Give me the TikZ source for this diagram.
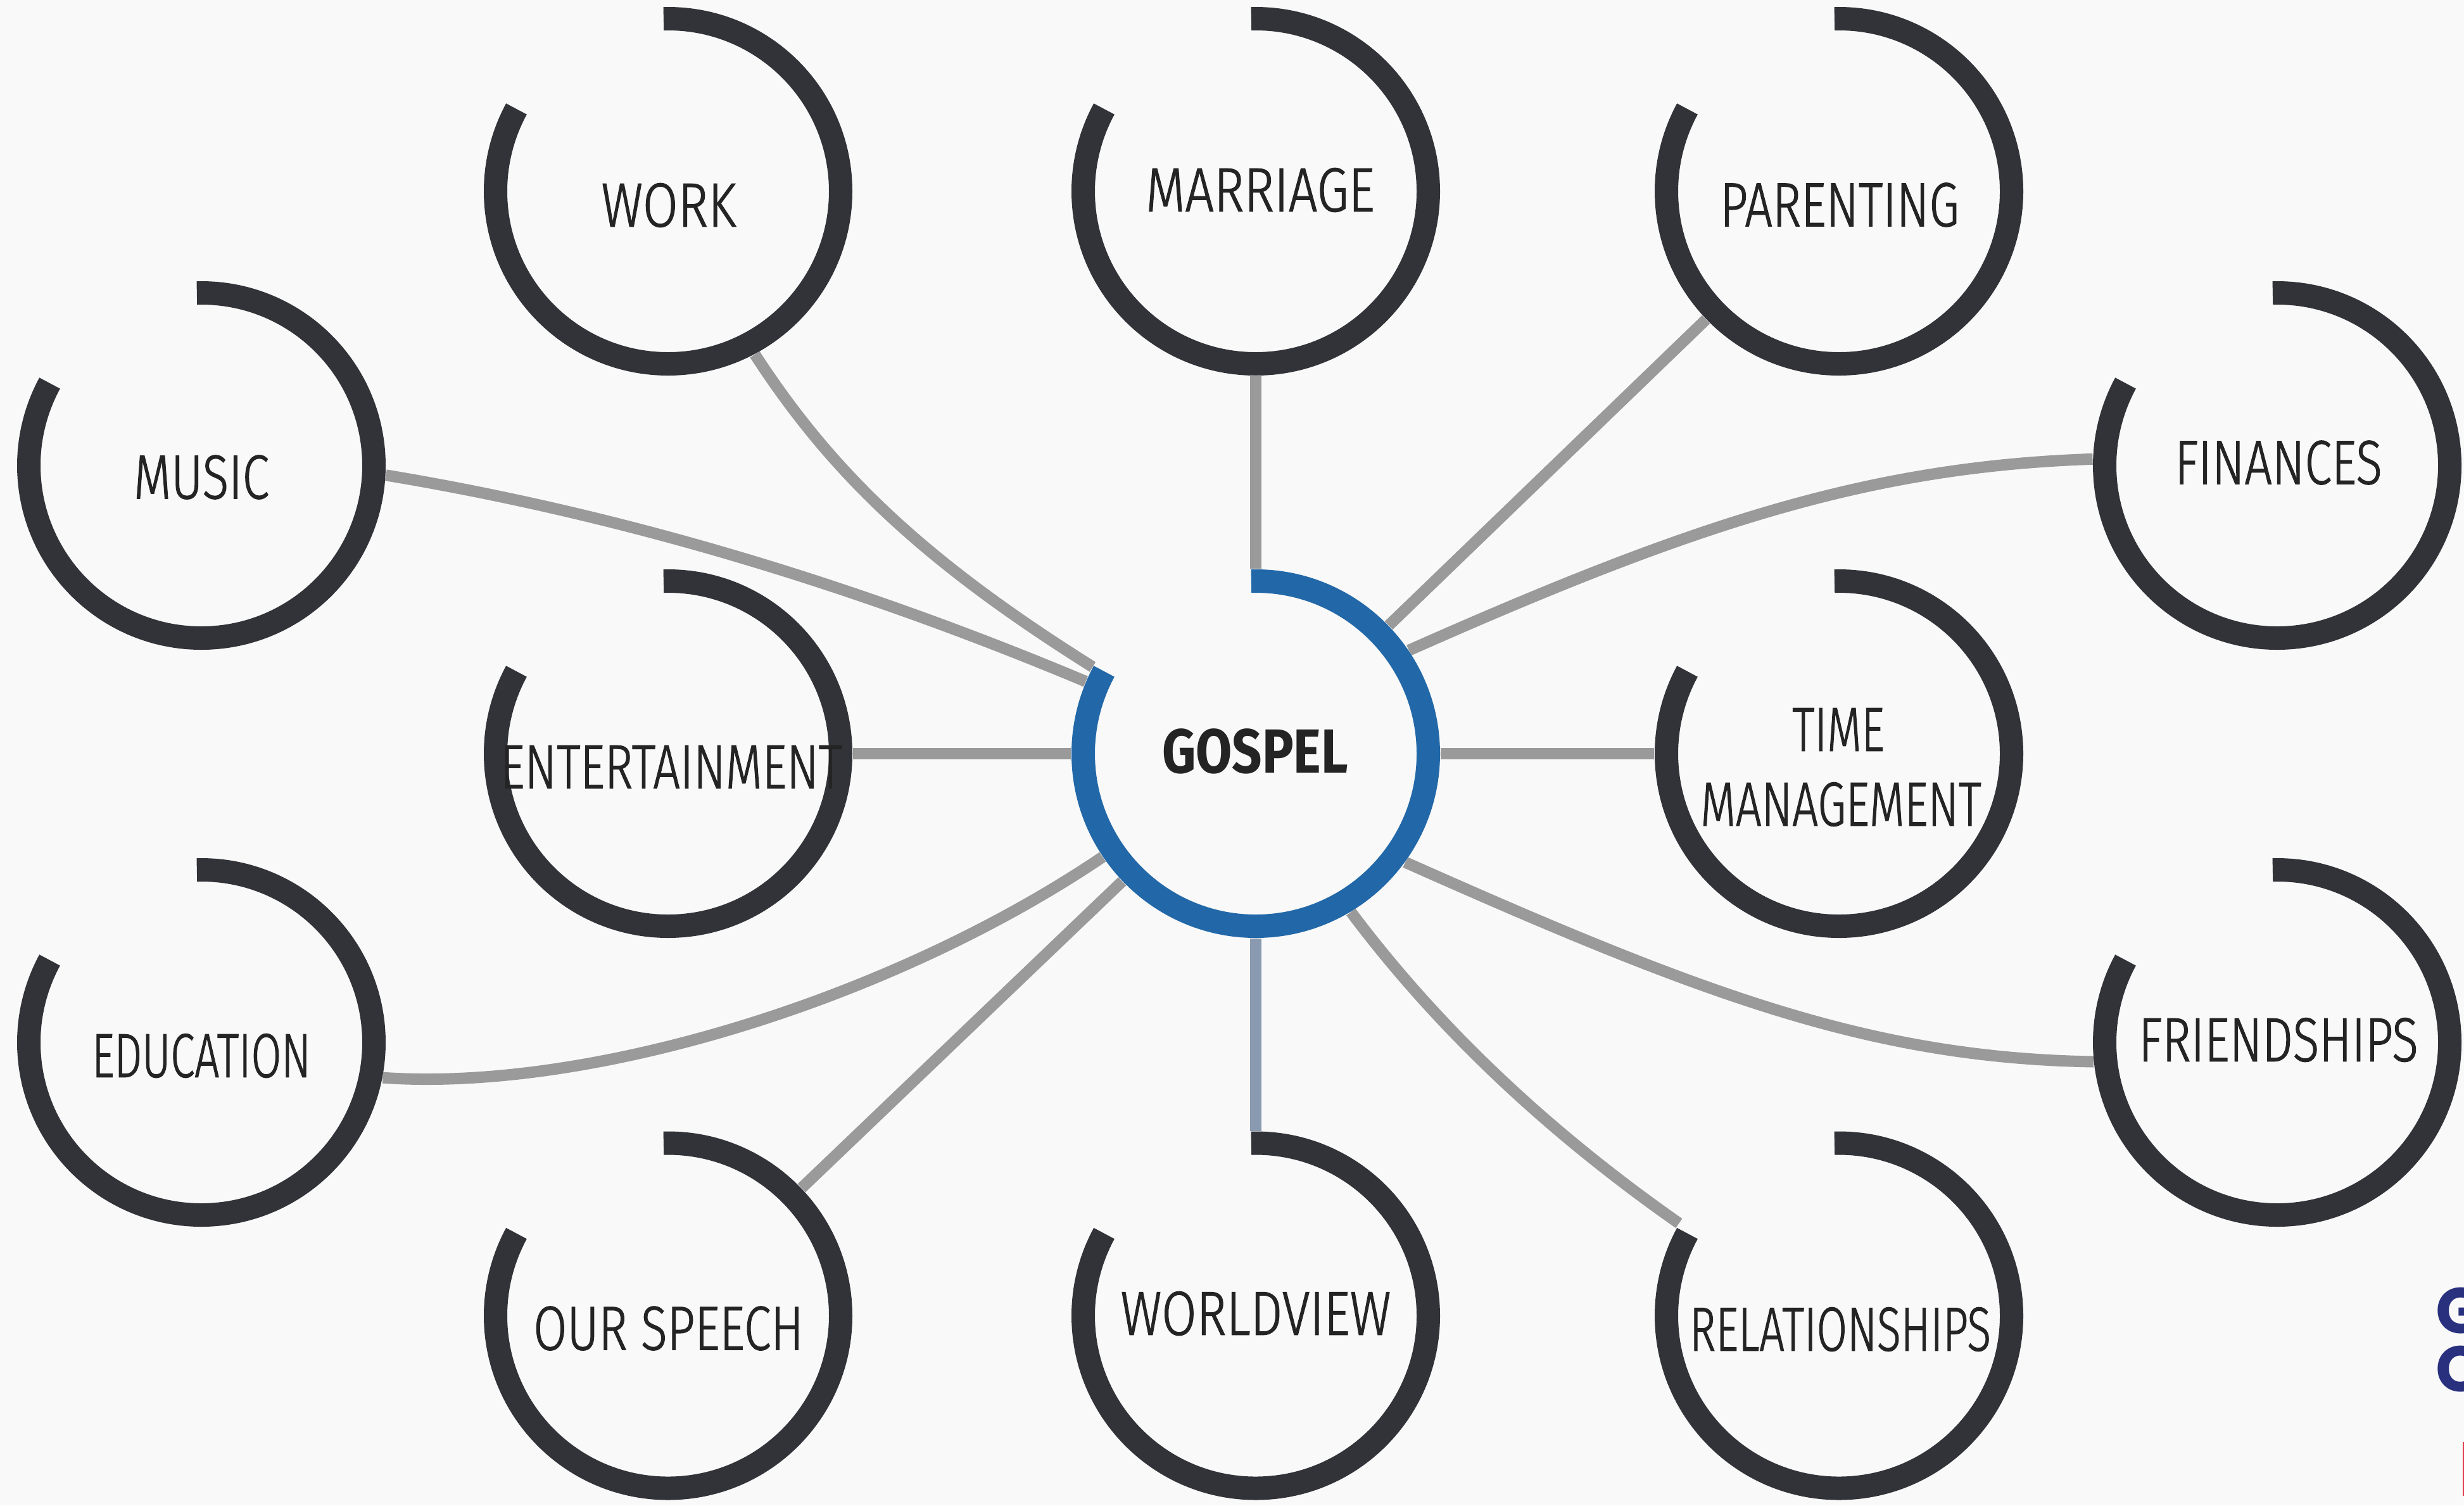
\documentclass[tikz,border=0pt]{standalone}
\usepackage{fontspec}
\setmainfont{Fira Sans}[FakeStretch=0.78, UprightFont=* Light, UprightFeatures={FakeBold=1.2}, BoldFont=* Bold]
\newfontfamily\logofont{Poppins}
\definecolor{bgc}{HTML}{F9F9F9}
\definecolor{ringc}{HTML}{323338}
\definecolor{gospelc}{HTML}{2268A8}
\definecolor{linkc}{HTML}{9A9A9A}
\definecolor{linkb}{HTML}{8A9AB0}
\definecolor{txtc}{HTML}{242424}
\definecolor{logoc}{HTML}{29307E}
\definecolor{redc}{HTML}{E23A4E}
\pgfdeclarelayer{back}
\pgfsetlayers{back,main}
\tikzset{
  disk/.style={circle, minimum size=5.82cm, inner sep=0pt, fill=bgc},
  ring/.style={line width=0.37cm, draw=ringc},
  gring/.style={line width=0.37cm, draw=gospelc},
  link/.style={line width=0.18cm, draw=linkc},
  lbl/.style={inner sep=0pt, text=txtc, font=\fontsize{28}{30}\selectfont},
  glbl/.style={inner sep=0pt, text=txtc, font=\fontsize{28}{30}\selectfont\bfseries},
  logo/.style={inner sep=0pt, anchor=west, text=logoc, font=\logofont\bfseries\fontsize{29}{31}\selectfont},
}
\newcommand\ringfor[2]{\draw[#2] ([shift={(91.5:2.725)}]#1.center) arc[start angle=91.5, end angle=-208.5, radius=2.725];}
\newcommand\sx[2]{\scalebox{#1}[1]{#2}}
\begin{document}
\begin{tikzpicture}
\useasboundingbox (0,0) rectangle (38.91,-23.77);
\begin{pgfonlayer}{back}
\fill[bgc] (0,0) rectangle (38.91,-23.77);
\end{pgfonlayer}
% circle nodes
\node[disk] (work) at (10.55,-3.02) {};
\node[disk] (marriage) at (19.83,-3.02) {};
\node[disk] (parenting) at (29.04,-3.02) {};
\node[disk] (music) at (3.18,-7.35) {};
\node[disk] (finances) at (35.96,-7.35) {};
\node[disk] (entertainment) at (10.55,-11.90) {};
\node[disk] (gospel) at (19.83,-11.90) {};
\node[disk] (time) at (29.04,-11.90) {};
\node[disk] (education) at (3.18,-16.46) {};
\node[disk] (friendships) at (35.96,-16.46) {};
\node[disk] (speech) at (10.55,-20.775) {};
\node[disk] (worldview) at (19.83,-20.775) {};
\node[disk] (relationships) at (29.04,-20.775) {};
% connectors
\begin{pgfonlayer}{back}
\draw[link] (marriage) -- (gospel);
\draw[link] (parenting) -- (gospel);
\draw[link] (entertainment) -- (gospel);
\draw[link] (time) -- (gospel);
\draw[link] (speech) -- (gospel);
\draw[link, draw=linkb] (worldview) -- (gospel);
\draw[link] (music.-3) .. controls +(3.80,-0.63) and +(-3.55,1.49) .. (gospel.157.5);
\draw[link] (work.-62) .. controls +(1.20,-1.845) and +(-2.71,1.70) .. (gospel.152);
\draw[link] (education.-11) .. controls +(3.29,-0.23) and +(-3.32,-2.24) .. (gospel.214);
\draw[link] (finances.178) .. controls +(-3.50,-0.12) and +(4.57,2.03) .. (gospel.34);
\draw[link] (friendships.-174) .. controls +(-3.50,0.06) and +(4.75,-2.115) .. (gospel.-36);
\draw[link] (relationships.150) .. controls +(-1.97,1.38) and +(1.44,-1.92) .. (gospel.-59);
\end{pgfonlayer}
% rings
\ringfor{work}{ring}
\ringfor{marriage}{ring}
\ringfor{parenting}{ring}
\ringfor{music}{ring}
\ringfor{finances}{ring}
\ringfor{entertainment}{ring}
\ringfor{gospel}{gring}
\ringfor{time}{ring}
\ringfor{education}{ring}
\ringfor{friendships}{ring}
\ringfor{speech}{ring}
\ringfor{worldview}{ring}
\ringfor{relationships}{ring}
% labels
\node[lbl] (work-t) at (10.56,-3.24) {\sx{1.05}{WORK}};
\node[lbl] (marriage-t) at (19.90,-3.00) {\sx{1.05}{MARRIAGE}};
\node[lbl] (parenting-t) at (29.05,-3.235) {PARENTING};
\node[lbl] (music-t) at (3.18,-7.535) {MUSIC};
\node[lbl] (finances-t) at (35.98,-7.305) {FINANCES};
\node[lbl] (entertainment-t) at (10.60,-12.11) {\sx{0.98}{ENTERTAINMENT}};
\node[glbl] (gospel-t) at (19.82,-11.86) {\sx{1.08}{GOSPEL}};
\node[lbl] (time-t) at (29.03,-11.52) {\sx{0.92}{TIME}};
\node[lbl] (management-t) at (29.07,-12.70) {\sx{0.94}{MANAGEMENT}};
\node[lbl] (education-t) at (3.18,-16.67) {\sx{0.9}{EDUCATION}};
\node[lbl] (friendships-t) at (35.98,-16.42) {FRIENDSHIPS};
\node[lbl] (speech-t) at (10.555,-20.975) {OUR SPEECH};
\node[lbl] (worldview-t) at (19.83,-20.74) {\sx{1.04}{WORLDVIEW}};
\node[lbl] (relationships-t) at (29.06,-20.99) {\sx{0.91}{RELATIONSHIPS}};
% partial logo at right edge
\node[logo] (logoG) at (38.46,-20.70) {G};
\node[logo] (logoC) at (38.46,-21.615) {C};
\fill[redc] (38.885,-22.77) rectangle (38.91,-23.62);
\end{tikzpicture}
\end{document}
